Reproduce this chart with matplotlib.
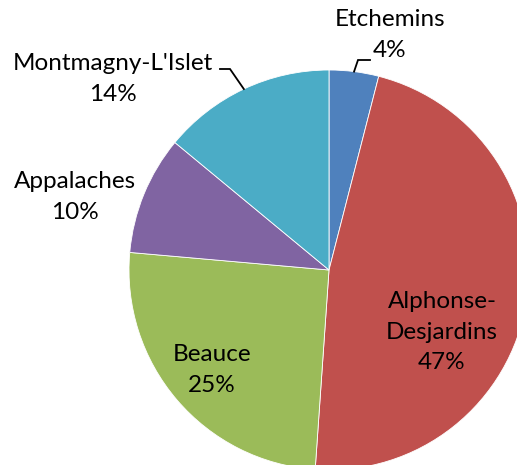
import numpy as np
import matplotlib
matplotlib.use("Agg")
import matplotlib.pyplot as plt

# data
regions = ["Etchemins", "Alphonse-\nDesjardins", "Beauce", "Appalaches", "Montmagny-L'Islet"]
shares = [4.0, 47.1, 25.3, 9.6, 14.0]
colors = ["#4F81BD", "#C0504D", "#9BBB59", "#8064A2", "#4BACC6"]

# label centres (data units, pie radius = 1)
label_pos = [(0.305, 1.175), (0.565, -0.31), (-0.585, -0.5), (-1.27, 0.365), (-1.08, 0.955)]
# leader lines: (elbow, end) for the outside labels that need one
leaders = {0: [(0.145, 1.05), (0.205, 1.05)], 4: [(-0.495, 1.005), (-0.545, 1.005)]}

plt.rcParams["font.family"] = ["Lato", "DejaVu Sans"]

fig = plt.figure(figsize=(5.17, 4.65), dpi=100)
ax = fig.add_axes([0, 0, 1, 1])

wedges, _ = ax.pie(shares, colors=colors, startangle=90, counterclock=False,
                   radius=1, wedgeprops=dict(edgecolor="white", linewidth=0.6))

total = sum(shares)
for i, w in enumerate(wedges):
    pct = round(shares[i] / total * 100)
    x, y = label_pos[i]
    ax.text(x, y, "%s\n%d%%" % (regions[i], pct), ha="center", va="center",
            fontsize=17.5, color="black", linespacing=1.55)
    if i in leaders:
        mid = np.deg2rad((w.theta1 + w.theta2) / 2)
        pts = [(np.cos(mid), np.sin(mid))] + leaders[i]
        ax.plot([p[0] for p in pts], [p[1] for p in pts], color="black", lw=1.3,
                solid_joinstyle="miter")

ax.set_xlim(-1.645, 0.94)
ax.set_ylim(-0.975, 1.35)
ax.set_aspect("equal")
ax.axis("off")

fig.savefig("out.png", dpi=100)
